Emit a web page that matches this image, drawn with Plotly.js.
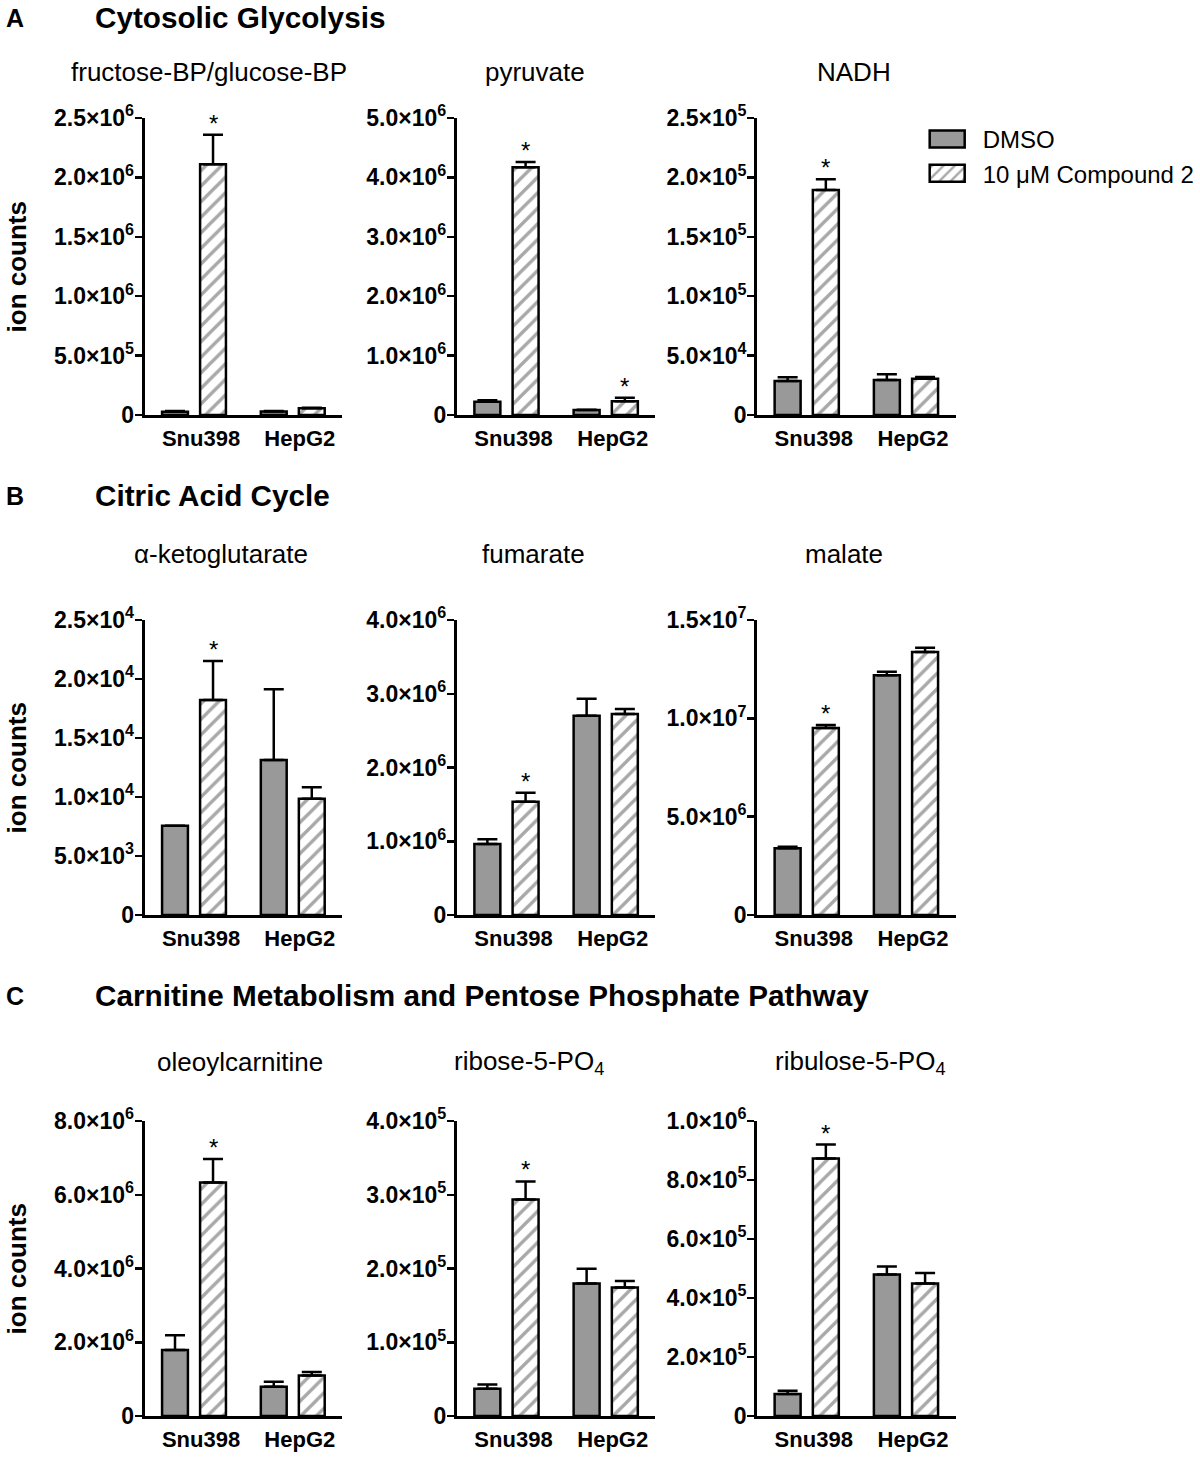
<!DOCTYPE html>
<html>
<head>
<meta charset="utf-8">
<script src="https://cdn.plot.ly/plotly-3.0.1.min.js"></script>
<style>html,body{margin:0;padding:0;background:#fff;}</style>
</head>
<body>
<div id="chart" style="width:1200px;height:1472px;"></div>
<script>
// ---------------- DATA ----------------
const categories = ['Snu398', 'HepG2'];
const seriesNames = ['DMSO', '10 \u03bcM Compound 2'];

const sectionLetters = ['A', 'B', 'C'];
const sectionTitles = ['Cytosolic Glycolysis', 'Citric Acid Cycle', 'Carnitine Metabolism and Pentose Phosphate Pathway'];

const panelTitles = [
  'fructose-BP/glucose-BP', 'pyruvate', 'NADH',
  '\u03b1-ketoglutarate', 'fumarate', 'malate',
  'oleoylcarnitine', 'ribose-5-PO<sub>4</sub>', 'ribulose-5-PO<sub>4</sub>'
];

// mean values [Snu398, HepG2]
const dmsoMean = [
  [2.8e4, 3.0e4], [2.24e5, 8.4e4], [2.86e4, 2.95e4],
  [7.57e3, 1.314e4], [9.63e5, 2.703e6], [3.39e6, 1.219e7],
  [1.79e6, 7.95e5], [3.69e4, 1.797e5], [7.45e4, 4.80e5]
];
const dmsoErr = [
  [5e3, 4e3], [2.5e4, 6e3], [3.1e3, 4.8e3],
  [0, 6.0e3], [6.3e4, 2.3e5], [8e4, 1.8e5],
  [4.0e5, 1.35e5], [5.8e3, 2.0e4], [1.12e4, 2.7e4]
];
const cmpdMean = [
  [2.11e6, 5.6e4], [4.17e6, 2.3e5], [1.894e5, 3.06e4],
  [1.822e4, 9.86e3], [1.537e6, 2.726e6], [9.51e6, 1.337e7],
  [6.33e6, 1.10e6], [2.935e5, 1.744e5], [8.73e5, 4.49e5]
];
const cmpdErr = [
  [2.5e5, 5e3], [9e4, 6e4], [9e3, 1.4e3],
  [3.3e3, 9.6e2], [1.2e5, 6.7e4], [1.5e5, 2.2e5],
  [6.4e5, 9e4], [2.45e4, 8.6e3], [4.7e4, 3.6e4]
];
// significance (asterisk above compound bar)
const cmpdSig = [
  [true, false], [true, true], [true, false],
  [true, false], [true, false], [true, false],
  [true, false], [true, false], [true, false]
];

const yMax = [2.5e6, 5e6, 2.5e5, 2.5e4, 4e6, 1.5e7, 8e6, 4e5, 1e6];
const yTickVals = [
  [0, 5e5, 1e6, 1.5e6, 2e6, 2.5e6],
  [0, 1e6, 2e6, 3e6, 4e6, 5e6],
  [0, 5e4, 1e5, 1.5e5, 2e5, 2.5e5],
  [0, 5e3, 1e4, 1.5e4, 2e4, 2.5e4],
  [0, 1e6, 2e6, 3e6, 4e6],
  [0, 5e6, 1e7, 1.5e7],
  [0, 2e6, 4e6, 6e6, 8e6],
  [0, 1e5, 2e5, 3e5, 4e5],
  [0, 2e5, 4e5, 6e5, 8e5, 1e6]
];
const yTickText = [
  ['0', '5.0\u00d710<sup>5</sup>', '1.0\u00d710<sup>6</sup>', '1.5\u00d710<sup>6</sup>', '2.0\u00d710<sup>6</sup>', '2.5\u00d710<sup>6</sup>'],
  ['0', '1.0\u00d710<sup>6</sup>', '2.0\u00d710<sup>6</sup>', '3.0\u00d710<sup>6</sup>', '4.0\u00d710<sup>6</sup>', '5.0\u00d710<sup>6</sup>'],
  ['0', '5.0\u00d710<sup>4</sup>', '1.0\u00d710<sup>5</sup>', '1.5\u00d710<sup>5</sup>', '2.0\u00d710<sup>5</sup>', '2.5\u00d710<sup>5</sup>'],
  ['0', '5.0\u00d710<sup>3</sup>', '1.0\u00d710<sup>4</sup>', '1.5\u00d710<sup>4</sup>', '2.0\u00d710<sup>4</sup>', '2.5\u00d710<sup>4</sup>'],
  ['0', '1.0\u00d710<sup>6</sup>', '2.0\u00d710<sup>6</sup>', '3.0\u00d710<sup>6</sup>', '4.0\u00d710<sup>6</sup>'],
  ['0', '5.0\u00d710<sup>6</sup>', '1.0\u00d710<sup>7</sup>', '1.5\u00d710<sup>7</sup>'],
  ['0', '2.0\u00d710<sup>6</sup>', '4.0\u00d710<sup>6</sup>', '6.0\u00d710<sup>6</sup>', '8.0\u00d710<sup>6</sup>'],
  ['0', '1.0\u00d710<sup>5</sup>', '2.0\u00d710<sup>5</sup>', '3.0\u00d710<sup>5</sup>', '4.0\u00d710<sup>5</sup>'],
  ['0', '2.0\u00d710<sup>5</sup>', '4.0\u00d710<sup>5</sup>', '6.0\u00d710<sup>5</sup>', '8.0\u00d710<sup>5</sup>', '1.0\u00d710<sup>6</sup>']
];
const yAxisTitle = 'ion counts';

// ---------------- LAYOUT GEOMETRY (pixels) ----------------
const W = 1200, H = 1472;
const colPx = [[145, 343], [458, 657], [759, 958]];
const rowPx = [[118, 415], [620, 915], [1121, 1416]];
const sectionY = [17, 495, 995];
const subtitleY = [72, 554, 1062];
const subtitleX = [210, 536, 856, 222, 535, 846, 241, 530, 863];

const FONT = 'Liberation Sans, Arial, Helvetica, sans-serif';
const BARGAP = 0.23, BARGROUPGAP = 0.32;

const traces = [];
const layout = {
  width: W, height: H,
  margin: {l: 0, r: 0, t: 0, b: 0},
  paper_bgcolor: 'white', plot_bgcolor: 'rgba(0,0,0,0)',
  barmode: 'group', bargap: BARGAP, bargroupgap: BARGROUPGAP,
  font: {family: FONT, color: 'black'},
  showlegend: true,
  legend: {
    x: 925 / W, y: 1 - 117 / H, xanchor: 'left', yanchor: 'top',
    font: {family: FONT, size: 24, color: 'black'},
    itemwidth: 50, tracegroupgap: 0, bgcolor: 'rgba(0,0,0,0)'
  },
  annotations: [], shapes: []
};

for (let i = 0; i < 9; i++) {
  const r = Math.floor(i / 3), c = i % 3;
  const xa = 'x' + (i + 1), ya = 'y' + (i + 1);
  const xKey = 'xaxis' + (i === 0 ? '' : i + 1);
  const yKey = 'yaxis' + (i === 0 ? '' : i + 1);

  traces.push({
    type: 'bar', name: seriesNames[0], legendgroup: 'dmso', showlegend: i === 0,
    x: categories, y: dmsoMean[i], xaxis: xa, yaxis: ya,
    marker: {color: '#999999', line: {color: 'black', width: 2.5}},
    error_y: {type: 'data', symmetric: false, array: dmsoErr[i], arrayminus: [0, 0],
              color: 'black', thickness: 2.5, width: 10},
    hoverinfo: 'skip'
  });
  traces.push({
    type: 'bar', name: seriesNames[1], legendgroup: 'cmpd', showlegend: i === 0,
    x: categories, y: cmpdMean[i], xaxis: xa, yaxis: ya,
    marker: {color: 'white', line: {color: 'black', width: 2.5},
             pattern: {shape: '/', fgcolor: '#a8a8a8', bgcolor: 'white', size: 11, solidity: 0.3}},
    error_y: {type: 'data', symmetric: false, array: cmpdErr[i], arrayminus: [0, 0],
              color: 'black', thickness: 2.5, width: 10},
    hoverinfo: 'skip'
  });

  layout[xKey] = {
    domain: [colPx[c][0] / W, colPx[c][1] / W], anchor: ya,
    type: 'category', range: [-0.5, 1.5],
    showline: true, linewidth: 3, linecolor: 'black',
    ticks: '', showgrid: false, zeroline: false,
    tickfont: {family: FONT, size: 22, weight: 'bold', color: 'black'},
    ticklabelstandoff: 2, ticklabelshift: 7, fixedrange: true
  };
  layout[yKey] = {
    domain: [1 - rowPx[r][1] / H, 1 - rowPx[r][0] / H], anchor: xa,
    range: [0, yMax[i]],
    showline: true, linewidth: 3, linecolor: 'black',
    ticks: 'outside', ticklen: 7, tickwidth: 2.5, tickcolor: 'black',
    tickmode: 'array', tickvals: yTickVals[i], ticktext: yTickText[i],
    tickfont: {family: FONT, size: 23, weight: 'bold', color: 'black'},
    ticklabelstandoff: -4,
    showgrid: false, zeroline: false, fixedrange: true
  };

  // subplot title
  layout.annotations.push({
    xref: 'paper', yref: 'paper', x: subtitleX[i] / W, y: 1 - subtitleY[r] / H,
    xanchor: 'center', yanchor: 'middle', showarrow: false,
    text: panelTitles[i], font: {family: FONT, size: 26, color: 'black'}
  });

  // significance asterisks
  const offset = (1 - BARGAP) / 4;
  for (let j = 0; j < categories.length; j++) {
    if (cmpdSig[i][j]) {
      layout.annotations.push({
        xref: xa, yref: ya, x: j + offset, y: cmpdMean[i][j] + cmpdErr[i][j],
        xanchor: 'center', yanchor: 'bottom', yshift: -4, showarrow: false,
        text: '*', font: {family: FONT, size: 24, color: 'black'}
      });
    }
  }
}

for (let r = 0; r < 3; r++) {
  layout.annotations.push({
    xref: 'paper', yref: 'paper', x: 4 / W, y: 1 - (sectionY[r] + 1) / H,
    xanchor: 'left', yanchor: 'middle', showarrow: false,
    text: '<b>' + sectionLetters[r] + '</b>', font: {family: FONT, size: 25, color: 'black'}
  });
  layout.annotations.push({
    xref: 'paper', yref: 'paper', x: 93 / W, y: 1 - sectionY[r] / H,
    xanchor: 'left', yanchor: 'middle', showarrow: false,
    text: '<b>' + sectionTitles[r] + '</b>', font: {family: FONT, size: 29.7, color: 'black'}
  });
  layout.annotations.push({
    xref: 'paper', yref: 'paper', x: 17 / W, y: 1 - (rowPx[r][0] + rowPx[r][1]) / 2 / H,
    xanchor: 'center', yanchor: 'middle', showarrow: false, textangle: -90,
    text: '<b>' + yAxisTitle + '</b>', font: {family: FONT, size: 26, color: 'black'}
  });
}

function widenLegendSwatches() {
  // draw the legend swatches as wide boxes like the reference
  document.querySelectorAll('.legend .traces').forEach(function (item) {
    const text = item.querySelector('text.legendtext');
    const path = item.querySelector('.legendpoints path');
    if (!text || !path) return;
    path.removeAttribute('transform');
    path.setAttribute('d', 'M0.5,0.5H-0.5V-0.5H0.5Z');
    const pr = path.getBoundingClientRect();
    const tr = text.getBoundingClientRect();
    const cx = pr.left + pr.width / 2;
    const wantCx = tr.left - 18 - 17.5;
    path.setAttribute('d', 'M17.5,8.5H-17.5V-8.5H17.5Z');
    path.setAttribute('transform', 'translate(' + (wantCx - cx) + ',0)');
  });
  document.querySelectorAll('.legend [clip-path]').forEach(function (e) { e.removeAttribute('clip-path'); });
}

Plotly.newPlot('chart', traces, layout, {staticPlot: true, displayModeBar: false}).then(function () {
  widenLegendSwatches();
});
</script>
</body>
</html>
